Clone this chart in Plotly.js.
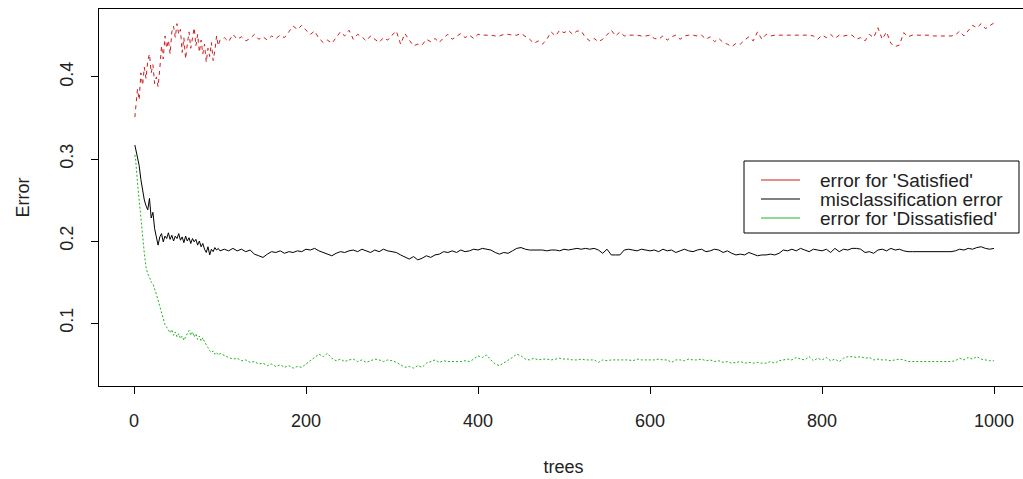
<!DOCTYPE html>
<html>
<head>
<meta charset="utf-8">
<script src="https://cdn.plot.ly/plotly-3.0.1.min.js"></script>
<style>
html,body{margin:0;padding:0;overflow:hidden;background:#fff;}
#chart{width:1035px;height:479px;}
</style>
</head>
<body>
<div id="chart"></div>
<script>
// tree indices
const treesEarly = [1,2,4,6,8,10,12,14,16,18,20,22,24,26,28,30,32,34,36,38,40,42,44,46,48,50,52,54,56,58,60,62,64,66,68,70,72,74,76,78,80,82,84,86,88,90,92,94,96,98,100];
const treesLate = [105,110,115,120,125,130,135,140,145,150,155,160,165,170,175,180,185,190,195,200,
205,210,215,220,225,230,235,240,245,250,255,260,265,270,275,280,285,290,295,300,
305,310,315,320,325,330,335,340,345,350,355,360,365,370,375,380,385,390,395,400,
405,410,415,420,425,430,435,440,445,450,455,460,465,470,475,480,485,490,495,500,
505,510,515,520,525,530,535,540,545,550,555,560,565,570,575,580,585,590,595,600,
605,610,615,620,625,630,635,640,645,650,655,660,665,670,675,680,685,690,695,700,
705,710,715,720,725,730,735,740,745,750,755,760,765,770,775,780,785,790,795,800,
805,810,815,820,825,830,835,840,845,850,855,860,865,870,875,880,885,890,895,900,
905,910,915,920,925,930,935,940,945,950,955,960,965,970,975,980,985,990,995,1000];

// error for 'Satisfied'
const satEarly = [0.351,0.362,0.385,0.372,0.405,0.390,0.412,0.398,0.420,0.428,
0.405,0.415,0.392,0.400,0.388,0.410,0.438,0.422,0.450,0.435,
0.445,0.428,0.455,0.462,0.448,0.465,0.452,0.458,0.430,0.448,
0.422,0.440,0.455,0.435,0.448,0.460,0.438,0.452,0.430,0.445,
0.428,0.440,0.418,0.435,0.425,0.442,0.420,0.432,0.450,0.438,0.445];
const satLate = [0.448,0.443,0.452,0.446,0.449,0.444,0.447,0.452,0.446,0.449,
0.445,0.450,0.447,0.451,0.448,0.455,0.462,0.458,0.463,0.457,
0.452,0.456,0.447,0.442,0.445,0.441,0.448,0.455,0.450,0.457,
0.446,0.452,0.449,0.444,0.450,0.446,0.442,0.448,0.445,0.451,
0.456,0.440,0.453,0.445,0.438,0.440,0.439,0.446,0.443,0.447,
0.442,0.448,0.452,0.446,0.450,0.453,0.448,0.451,0.447,0.452,
0.451,0.451,0.451,0.450,0.450,0.452,0.452,0.451,0.451,0.453,
0.450,0.446,0.441,0.444,0.440,0.446,0.455,0.450,0.457,0.454,
0.457,0.452,0.456,0.456,0.448,0.444,0.447,0.443,0.446,0.452,
0.457,0.450,0.455,0.450,0.451,0.451,0.451,0.450,0.450,0.451,
0.447,0.446,0.450,0.445,0.449,0.451,0.446,0.450,0.451,0.451,
0.450,0.451,0.446,0.449,0.443,0.447,0.442,0.440,0.437,0.441,
0.440,0.445,0.449,0.444,0.455,0.446,0.452,0.450,0.451,0.451,
0.451,0.451,0.451,0.451,0.451,0.451,0.451,0.450,0.446,0.451,
0.448,0.452,0.447,0.451,0.450,0.451,0.451,0.446,0.448,0.444,
0.452,0.448,0.460,0.446,0.455,0.441,0.437,0.439,0.454,0.449,
0.451,0.451,0.451,0.451,0.451,0.450,0.450,0.450,0.450,0.450,
0.451,0.456,0.450,0.457,0.463,0.460,0.465,0.459,0.463,0.466];

// misclassification (OOB) error
const oobEarly = [0.317,0.312,0.305,0.292,0.275,0.262,0.250,0.243,0.238,0.252,
0.228,0.235,0.215,0.205,0.195,0.205,0.209,0.199,0.206,0.203,
0.210,0.202,0.207,0.200,0.206,0.203,0.209,0.201,0.205,0.198,
0.206,0.200,0.204,0.197,0.203,0.199,0.202,0.195,0.200,0.193,
0.197,0.190,0.186,0.193,0.183,0.190,0.187,0.192,0.189,0.191,0.188];
const oobLate = [0.190,0.188,0.191,0.188,0.190,0.187,0.189,0.184,0.182,0.180,
0.184,0.187,0.186,0.188,0.185,0.187,0.186,0.188,0.187,0.190,
0.189,0.191,0.188,0.186,0.184,0.182,0.185,0.187,0.186,0.188,
0.189,0.187,0.190,0.188,0.186,0.189,0.187,0.190,0.188,0.187,
0.186,0.183,0.180,0.178,0.181,0.177,0.179,0.182,0.180,0.183,
0.184,0.187,0.186,0.188,0.186,0.189,0.187,0.188,0.190,0.189,
0.191,0.190,0.189,0.186,0.184,0.186,0.185,0.188,0.191,0.192,
0.190,0.189,0.189,0.189,0.189,0.188,0.189,0.189,0.188,0.190,
0.189,0.190,0.191,0.190,0.191,0.190,0.191,0.189,0.185,0.190,
0.183,0.183,0.183,0.189,0.190,0.189,0.188,0.190,0.189,0.188,
0.189,0.187,0.190,0.188,0.189,0.186,0.188,0.190,0.188,0.187,
0.189,0.190,0.187,0.188,0.190,0.189,0.186,0.188,0.185,0.183,
0.184,0.183,0.186,0.184,0.182,0.183,0.183,0.184,0.183,0.185,
0.189,0.188,0.190,0.188,0.191,0.189,0.187,0.190,0.189,0.188,
0.190,0.186,0.191,0.187,0.190,0.189,0.191,0.191,0.190,0.186,
0.187,0.185,0.189,0.190,0.188,0.191,0.189,0.190,0.188,0.187,
0.187,0.187,0.187,0.187,0.187,0.187,0.187,0.187,0.187,0.187,
0.188,0.190,0.189,0.191,0.190,0.192,0.193,0.191,0.190,0.191];

// error for 'Dissatisfied'
const disEarly = [0.305,0.298,0.272,0.250,0.222,0.205,0.185,0.168,0.160,0.156,
0.150,0.148,0.140,0.135,0.128,0.120,0.112,0.104,0.098,0.095,
0.091,0.088,0.092,0.085,0.089,0.083,0.087,0.081,0.084,0.079,
0.083,0.088,0.091,0.085,0.089,0.083,0.087,0.080,0.084,0.078,
0.082,0.077,0.074,0.070,0.066,0.064,0.066,0.062,0.064,0.061,0.063];
const disLate = [0.060,0.058,0.056,0.057,0.054,0.055,0.052,0.053,0.050,0.051,
0.048,0.050,0.047,0.049,0.046,0.048,0.045,0.047,0.046,0.050,
0.054,0.058,0.062,0.059,0.063,0.057,0.054,0.056,0.053,0.055,
0.056,0.053,0.055,0.052,0.054,0.056,0.055,0.053,0.055,0.054,
0.052,0.049,0.046,0.047,0.045,0.048,0.046,0.051,0.053,0.055,
0.052,0.054,0.053,0.053,0.053,0.053,0.054,0.053,0.056,0.060,
0.058,0.061,0.055,0.050,0.048,0.051,0.055,0.058,0.062,0.060,
0.056,0.055,0.057,0.055,0.056,0.056,0.055,0.056,0.057,0.056,
0.056,0.055,0.055,0.056,0.055,0.055,0.055,0.052,0.055,0.054,
0.055,0.055,0.055,0.055,0.055,0.054,0.056,0.055,0.055,0.055,
0.055,0.056,0.055,0.055,0.052,0.055,0.055,0.054,0.056,0.055,
0.055,0.056,0.054,0.055,0.053,0.054,0.052,0.053,0.051,0.052,
0.053,0.051,0.052,0.051,0.052,0.051,0.051,0.053,0.051,0.054,
0.055,0.056,0.055,0.058,0.056,0.055,0.059,0.054,0.057,0.055,
0.058,0.054,0.056,0.053,0.057,0.059,0.059,0.058,0.059,0.057,
0.058,0.055,0.056,0.055,0.055,0.054,0.055,0.056,0.055,0.053,
0.053,0.053,0.053,0.053,0.053,0.053,0.053,0.053,0.053,0.053,
0.054,0.057,0.055,0.058,0.056,0.059,0.056,0.055,0.054,0.054];

const xTicks = [0, 200, 400, 600, 800, 1000];
const yTicks = [0.1, 0.2, 0.3, 0.4];
const yTickText = ['0.1', '0.2', '0.3', '0.4'];
const seriesNames = ["error for 'Satisfied'", "misclassification error", "error for 'Dissatisfied'"];
const seriesColors = ['#c81e1e', '#000000', '#22b022'];
const seriesDash = ['4px,4px', 'solid', '2px,2px'];

const trees = treesEarly.concat(treesLate);
const FONT = '"Liberation Sans", Arial, sans-serif';
const seriesY = [satEarly.concat(satLate), oobEarly.concat(oobLate), disEarly.concat(disLate)];

const traces = seriesY.map((ys, i) => ({
  x: trees, y: ys, name: seriesNames[i], type: 'scatter', mode: 'lines',
  line: {color: seriesColors[i], width: 1, dash: seriesDash[i]}, showlegend: false
}));

// R-style legend box (paper coordinates)
const legBox = {x0: 0.6943, x1: 0.9903, y0: 0.4058, y1: 0.5968};
const legRows = [0.5464, 0.4960, 0.4456];
const shapes = [{type: 'rect', xref: 'paper', yref: 'paper', x0: legBox.x0, x1: legBox.x1, y0: legBox.y0, y1: legBox.y1,
  line: {color: '#000', width: 1}, fillcolor: '#fff', layer: 'above'}];
const annotations = [];
legRows.forEach((ry, i) => {
  shapes.push({type: 'line', xref: 'paper', yref: 'paper', x0: 0.7126, x1: 0.7546, y0: ry, y1: ry,
    line: {color: seriesColors[i], width: 1}, layer: 'above'});
  annotations.push({xref: 'paper', yref: 'paper', x: 0.7739, y: ry, xanchor: 'left', yanchor: 'middle',
    text: seriesNames[i], showarrow: false, font: {family: FONT, size: 19, color: '#222'}});
});

const layout = {
  width: 1035, height: 479,
  margin: {l: 99, r: 7, t: 9, b: 93, pad: 0},
  paper_bgcolor: '#ffffff', plot_bgcolor: '#ffffff',
  font: {family: FONT, size: 17, color: '#222'},
  showlegend: false,
  shapes: shapes,
  annotations: annotations,
  xaxis: {
    range: [-40.7, 1039.5], tickvals: xTicks, ticktext: xTicks.map(String),
    ticks: 'outside', ticklen: 7, tickcolor: '#000', tickwidth: 1, ticklabelstandoff: 11,
    showline: true, linecolor: '#000', linewidth: 1, mirror: true,
    showgrid: false, zeroline: false,
    tickfont: {family: FONT, size: 18, color: '#222'},
    title: {text: 'trees', font: {family: FONT, size: 18, color: '#222'}, standoff: 30},
    automargin: false
  },
  yaxis: {
    range: [0.0232, 0.4829], tickvals: yTicks, ticktext: yTickText, tickangle: -90,
    ticks: 'outside', ticklen: 7, tickcolor: '#000', tickwidth: 1, ticklabelstandoff: 11,
    showline: true, linecolor: '#000', linewidth: 1, mirror: true,
    showgrid: false, zeroline: false,
    tickfont: {family: FONT, size: 18, color: '#222'},
    title: {text: 'Error', font: {family: FONT, size: 18, color: '#222'}, standoff: 22},
    automargin: false
  }
};

Plotly.newPlot('chart', traces, layout, {displayModeBar: false, staticPlot: true});
</script>
</body>
</html>
